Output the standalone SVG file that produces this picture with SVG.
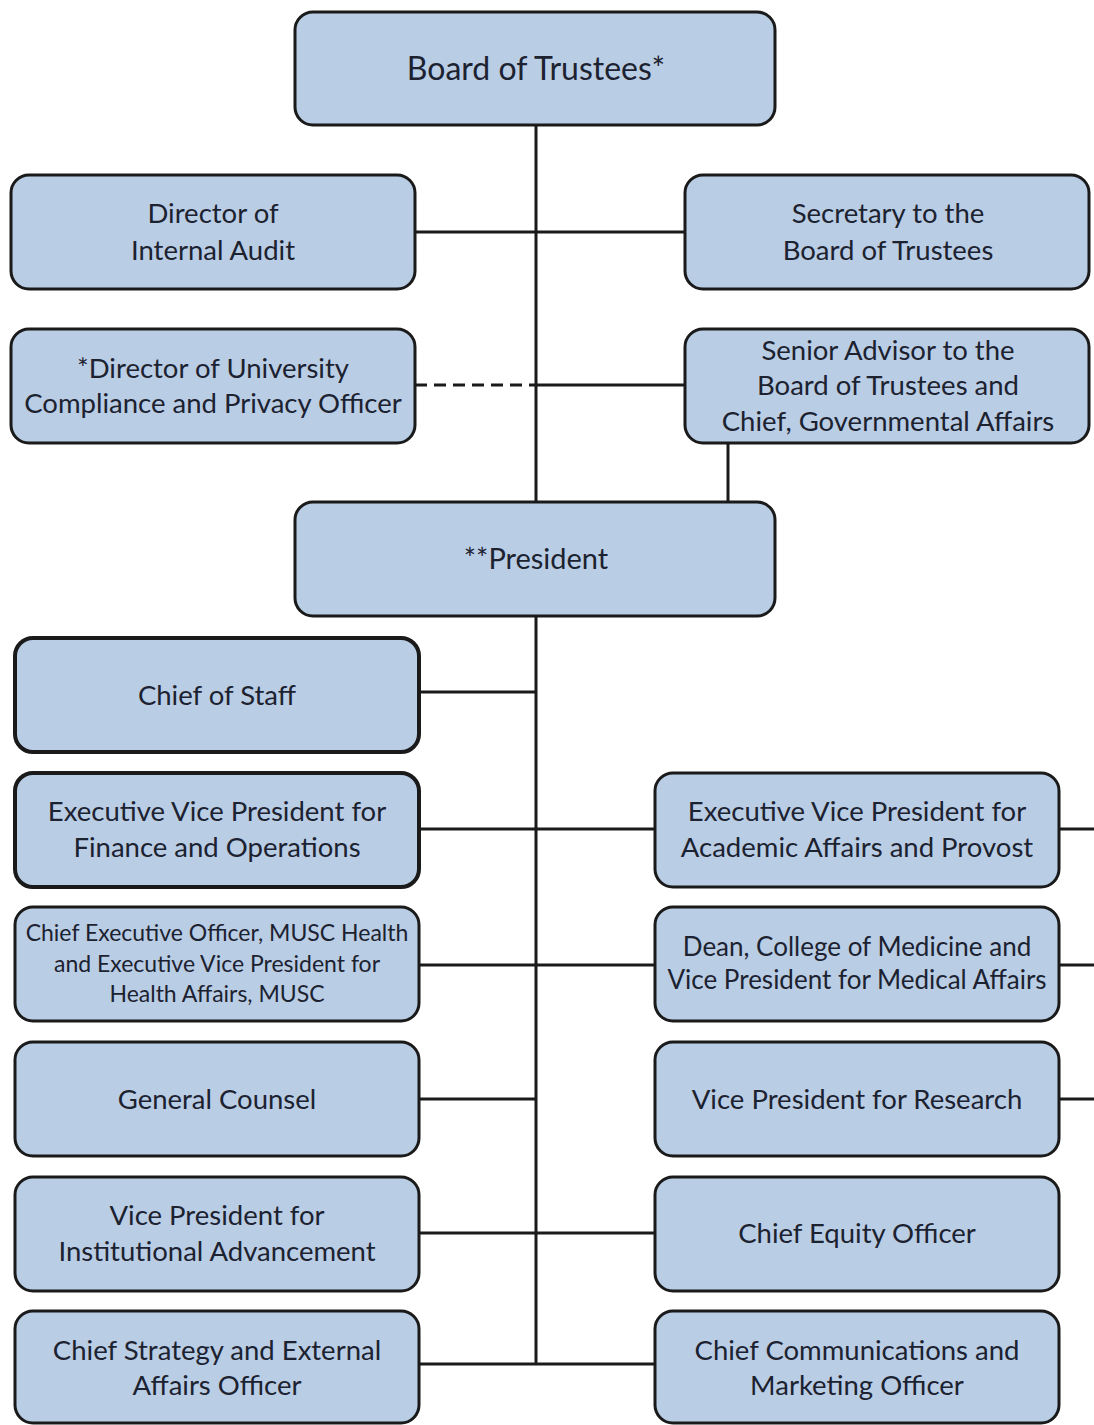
<svg xmlns="http://www.w3.org/2000/svg" width="1094" height="1425" viewBox="0 0 1094 1425">
<style>
.box{fill:#b9cde5;stroke:#1a1a1a;stroke-width:3}
.thick{stroke-width:4}
.t{font-family:Lato,"Open Sans","Liberation Sans",sans-serif;font-size:27.5px;fill:#1c2230;text-anchor:middle}
.b{font-size:32px}
.p{font-size:29px}
.s{font-size:23px}
.m{font-size:26px}
.c{stroke:#1a1a1a;stroke-width:3;fill:none}
.d{stroke-dasharray:12,7}
</style>
<rect width="1094" height="1425" fill="#ffffff"/>
<g id="connectors">
<line class="c" x1="536" y1="125" x2="536" y2="502"/>
<line class="c" x1="415" y1="232" x2="685" y2="232"/>
<line class="c d" x1="415" y1="385" x2="536" y2="385"/>
<line class="c" x1="536" y1="385" x2="685" y2="385"/>
<line class="c" x1="728" y1="443" x2="728" y2="502"/>
<line class="c" x1="536" y1="616" x2="536" y2="1364"/>
<line class="c" x1="419" y1="692" x2="536" y2="692"/>
<line class="c" x1="419" y1="829" x2="655" y2="829"/>
<line class="c" x1="1059" y1="829" x2="1094" y2="829"/>
<line class="c" x1="419" y1="965" x2="655" y2="965"/>
<line class="c" x1="1059" y1="965" x2="1094" y2="965"/>
<line class="c" x1="419" y1="1099" x2="536" y2="1099"/>
<line class="c" x1="1059" y1="1099" x2="1094" y2="1099"/>
<line class="c" x1="419" y1="1233" x2="655" y2="1233"/>
<line class="c" x1="419" y1="1364" x2="655" y2="1364"/>
</g>
<g id="board"><rect class="box" x="295" y="12" width="480" height="113" rx="18"/><text class="t b" x="536" y="80">Board of Trustees*</text></g>
<g id="audit"><rect class="box" x="11" y="175" width="404" height="114" rx="18"/><text class="t" x="213" y="223">Director of</text><text class="t" x="213" y="260">Internal Audit</text></g>
<g id="secretary"><rect class="box" x="685" y="175" width="404" height="114" rx="18"/><text class="t" x="888" y="223">Secretary to the</text><text class="t" x="888" y="260">Board of Trustees</text></g>
<g id="compliance"><rect class="box" x="11" y="329" width="404" height="114" rx="18"/><text class="t" x="213" y="378">*Director of University</text><text class="t" x="213" y="413">Compliance and Privacy Officer</text></g>
<g id="advisor"><rect class="box" x="685" y="329" width="404" height="114" rx="18"/><text class="t" x="888" y="360">Senior Advisor to the</text><text class="t" x="888" y="395">Board of Trustees and</text><text class="t" x="888" y="431">Chief, Governmental Affairs</text></g>
<g id="president"><rect class="box" x="295" y="502" width="480" height="114" rx="18"/><text class="t p" x="536" y="569">**President</text></g>
<g id="staff"><rect class="box thick" x="15" y="638" width="404" height="114" rx="18"/><text class="t" x="217" y="705">Chief of Staff</text></g>
<g id="finance"><rect class="box thick" x="15" y="773" width="404" height="114" rx="18"/><text class="t" x="217" y="821">Executive Vice President for</text><text class="t" x="217" y="857">Finance and Operations</text></g>
<g id="ceo"><rect class="box" x="15" y="907" width="404" height="114" rx="18"/><text class="t s" x="217" y="941">Chief Executive Officer, MUSC Health</text><text class="t s" x="217" y="972">and Executive Vice President for</text><text class="t s" x="217" y="1002">Health Affairs, MUSC</text></g>
<g id="counsel"><rect class="box" x="15" y="1042" width="404" height="114" rx="18"/><text class="t" x="217" y="1109">General Counsel</text></g>
<g id="advancement"><rect class="box" x="15" y="1177" width="404" height="114" rx="18"/><text class="t" x="217" y="1225">Vice President for</text><text class="t" x="217" y="1261">Institutional Advancement</text></g>
<g id="strategy"><rect class="box" x="15" y="1311" width="404" height="112" rx="18"/><text class="t" x="217" y="1360">Chief Strategy and External</text><text class="t" x="217" y="1395">Affairs Officer</text></g>
<g id="provost"><rect class="box" x="655" y="773" width="404" height="114" rx="18"/><text class="t" x="857" y="821">Executive Vice President for</text><text class="t" x="857" y="857">Academic Affairs and Provost</text></g>
<g id="dean"><rect class="box" x="655" y="907" width="404" height="114" rx="18"/><text class="t m" x="857" y="956">Dean, College of Medicine and</text><text class="t m" x="857" y="989">Vice President for Medical Affairs</text></g>
<g id="research"><rect class="box" x="655" y="1042" width="404" height="114" rx="18"/><text class="t" x="857" y="1109">Vice President for Research</text></g>
<g id="equity"><rect class="box" x="655" y="1177" width="404" height="114" rx="18"/><text class="t" x="857" y="1243">Chief Equity Officer</text></g>
<g id="communications"><rect class="box" x="655" y="1311" width="404" height="112" rx="18"/><text class="t" x="857" y="1360">Chief Communications and</text><text class="t" x="857" y="1395">Marketing Officer</text></g>
</svg>
